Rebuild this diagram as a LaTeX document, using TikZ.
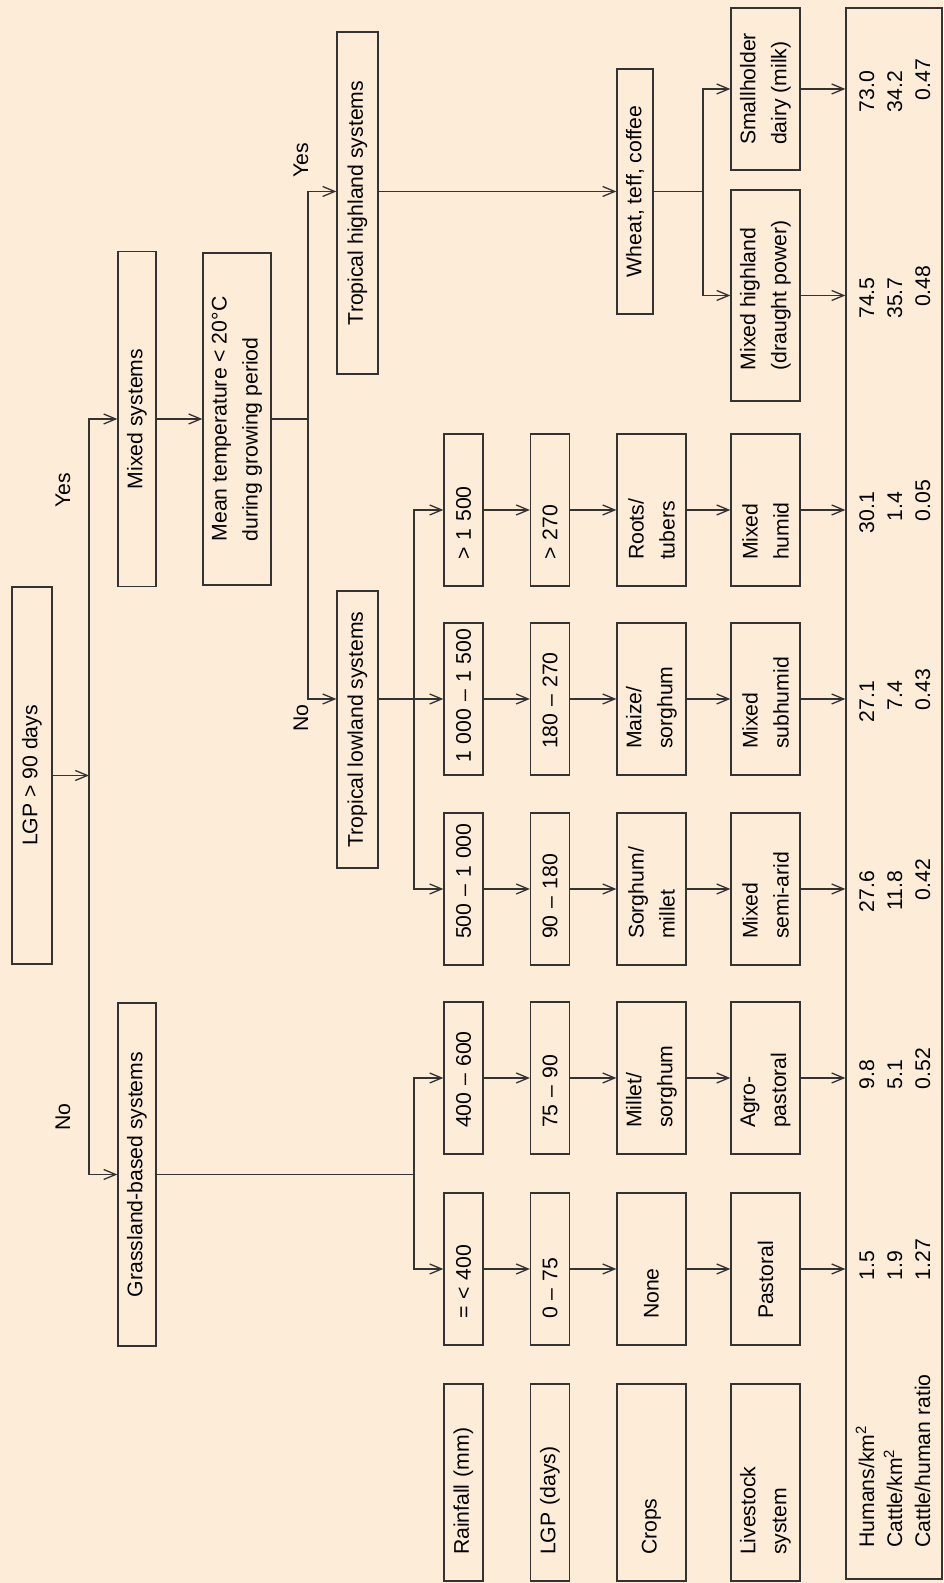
\documentclass[tikz,border=0pt]{standalone}
\usepackage{fontspec}
\setmainfont{Liberation Sans}
\usepackage{tikz}
\usetikzlibrary{arrows.meta,calc}
\definecolor{bgc}{HTML}{FCECD8}
\definecolor{lnc}{HTML}{333333}
\tikzset{
  box/.style    ={rectangle, draw=lnc, line width=0.65pt, align=center, inner sep=2pt,
                  font=\fontsize{10.6}{15.5}\selectfont},
  colbox/.style ={box, align=left, text width=50pt, inner xsep=13pt, minimum height=19.5pt},
  tallbox/.style={colbox, minimum height=34.5pt},
  legbox/.style ={box, align=left, text width=72.5pt, inner xsep=13pt, minimum height=19.5pt},
  fl/.style     ={-{Straight Barb[length=6pt,width=5pt]}, draw=lnc, line width=0.65pt},
  ln/.style     ={draw=lnc, line width=0.65pt},
  lbl/.style    ={font=\fontsize{10.6}{13}\selectfont, inner sep=0pt},
  num/.style    ={font=\fontsize{10.6}{13}\selectfont, inner sep=0pt, anchor=base west},
}
% decimal aligned numbers
\def\decpt#1.#2;{\llap{#1}.#2}
\newcommand\dnum[1]{\expandafter\decpt#1;}

\begin{document}
\begin{tikzpicture}
\begin{scope}[rotate=90, transform shape, x=0.5pt, y=0.5pt]
  \path[use as bounding box, fill=bgc] (0,0) rectangle (1583,-943);
  % upper part of the tree
  \node[box, minimum width=188.5pt, minimum height=20pt] (lgp) at (807.5,-32) {LGP > 90 days};
  \node[box, minimum width=171.5pt, minimum height=19pt] (gras) at (408.5,-137) {Grassland-based systems};
  \node[box, minimum width=167.5pt, minimum height=19pt] (mix) at (1164,-137) {Mixed systems};
  \node[box, align=left, minimum width=166pt, minimum height=34pt] (temp) at (1164,-237)
    {Mean temperature < 20°C\\during growing period};
  \node[box, minimum width=138.5pt, minimum height=20.5pt] (lo) at (853.5,-357.5) {Tropical lowland systems};
  \node[box, minimum width=171pt, minimum height=20.5pt] (hi) at (1380,-357.5) {Tropical highland systems};
  \node[box, minimum width=122.5pt, minimum height=18pt] (wheat) at (1391.5,-635) {Wheat, teff, coffee};
  \node[box, align=left, minimum width=105.5pt, minimum height=34.5pt] (mxh) at (1287.5,-765.5)
    {Mixed highland\\(draught power)};
  \node[box, align=left, minimum width=81pt, minimum height=34.5pt] (small) at (1494,-765.5)
    {Smallholder\\dairy (milk)};
  % legend column
  \node[legbox] (leg1) at (100.5,-463.5) {Rainfall (mm)};
  \node[legbox] (leg2) at (100.5,-550) {LGP (days)};
  \node[legbox, minimum height=34.5pt] (leg3) at (100.5,-651.5) {Crops};
  \node[legbox, minimum height=34.5pt] (leg4) at (100.5,-765.5) {Livestock\\system};
  % five lowland/grassland columns
  \foreach \x/\rf/\lp/\cp/\lv [count=\i] in {
      314/{= < 400}/{0 – 75}/None/Pastoral,
      505/{400 – 600}/{75 – 90}/{Millet/\\sorghum}/{Agro-\\pastoral},
      694/{500 – 1 000}/{90 – 180}/{Sorghum/\\millet}/{Mixed\\semi-arid},
      884/{\hspace*{-7pt}1 000 – 1 500}/{180 – 270}/{Maize/\\sorghum}/{Mixed\\subhumid},
      1073/{> 1 500}/{> 270}/{Roots/\\tubers}/{Mixed\\humid}}
  {
    \node[colbox]  (rain\i) at (\x,-463.5) {\mbox{\rf}};
    \node[colbox]  (lgpd\i) at (\x,-550) {\mbox{\lp}};
    \node[tallbox] (crop\i) at (\x,-651.5) {\cp};
    \node[tallbox] (live\i) at (\x,-765.5) {\lv};
    \draw[fl] (rain\i) -- (lgpd\i);
    \draw[fl] (lgpd\i) -- (crop\i);
    \draw[fl] (crop\i) -- (live\i);
  }
  % results table
  \node[box, minimum width=785.5pt, minimum height=48pt] (data) at (789.5,-894) {};
  \node[num] (hum) at (35,-874) {Humans/km\textsuperscript{2}};
  \node[num] (cat) at (35,-902) {Cattle/km\textsuperscript{2}};
  \node[num] (rat) at (35,-930) {Cattle/human ratio};
  % connectors
  \coordinate (jA) at (lgp.south |- 0,-89);
  \draw[fl] (lgp) -- (jA);
  \draw[fl] (jA) -| (gras);
  \draw[fl] (jA) -| (mix);
  \node[lbl] (no1) at (466,-63) {No};
  \node[lbl] (yes1) at (1093,-63) {Yes};
  \draw[fl] (mix) -- (temp);
  \coordinate (jB) at (temp.south |- 0,-308);
  \draw[ln] (temp) -- (jB);
  \draw[fl] (jB) -| (lo.north -| rain4);
  \draw[fl] (jB) -| (hi.north -| wheat);
  \node[lbl] (no2) at (865,-301) {No};
  \node[lbl] (yes2) at (1423,-301) {Yes};
  \draw[fl] (hi.south -| wheat) -- (wheat);
  \coordinate (jD) at (gras |- 0,-414);
  \draw[ln] (gras) -- (jD);
  \draw[fl] (jD) -| (rain1);
  \draw[fl] (jD) -| (rain2);
  \coordinate (jC) at (rain4 |- 0,-414);
  \draw[ln] (lo.south -| rain4) -- (jC);
  \draw[fl] (jC) -| (rain3);
  \draw[fl] (jC) -- (rain4);
  \draw[fl] (jC) -| (rain5);
  \coordinate (jE) at (wheat |- 0,-703);
  \draw[ln] (wheat) -- (jE);
  \draw[fl] (jE) -| (mxh);
  \draw[fl] (jE) -| (small);
  \foreach \n/\ha/\ca/\ra [count=\j] in {live1/1.5/1.9/1.27, live2/9.8/5.1/0.52,
      live3/27.6/11.8/0.42, live4/27.1/7.4/0.43, live5/30.1/1.4/0.05,
      mxh/74.5/35.7/0.48, small/73.0/34.2/0.47}
  {
    \draw[fl] (\n) -- (\n |- data.north);
    \node[num] (hu\j) at (\n |- 0,-874) {\dnum{\ha}};
    \node[num] (ca\j) at (\n |- 0,-902) {\dnum{\ca}};
    \node[num] (ra\j) at (\n |- 0,-930) {\dnum{\ra}};
  }
\end{scope}
\end{tikzpicture}
\end{document}
